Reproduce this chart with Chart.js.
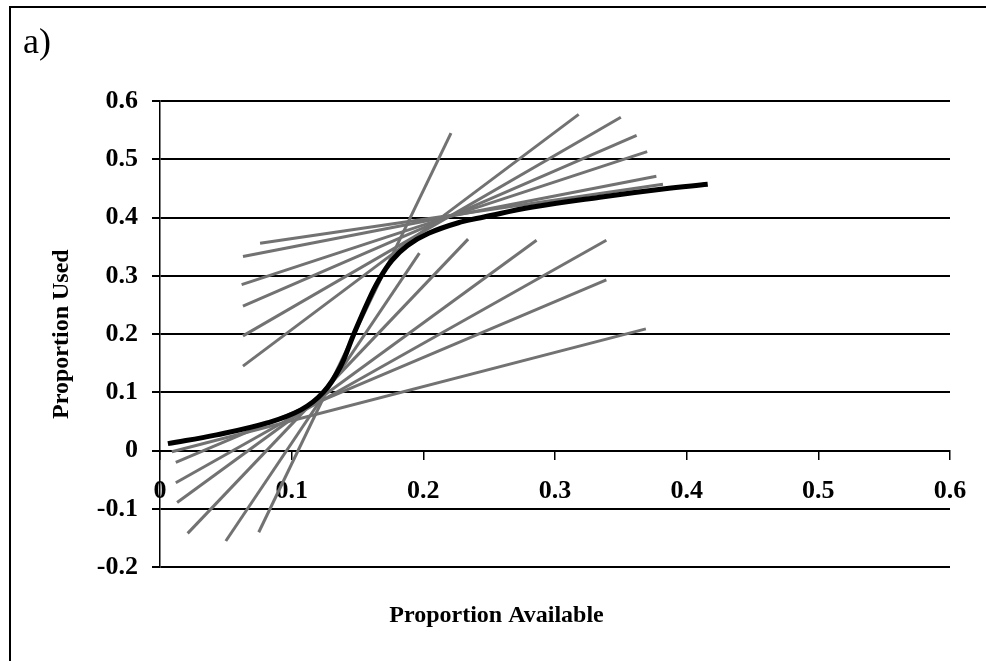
<!DOCTYPE html>
<html>
<head>
<meta charset="utf-8">
<title>a) Proportion Used vs Proportion Available</title>
<script src="https://cdn.jsdelivr.net/npm/chart.js@4.4.1/dist/chart.umd.min.js"></script>
<style>
  html, body { margin: 0; padding: 0; background: #fff; }
  #wrap { position: relative; width: 986px; height: 661px; }
</style>
</head>
<body>
<div id="wrap"><canvas id="propChart"></canvas></div>
<script>
/* ---- data ---- */
const PANEL_LABEL = 'a)';
const X_TITLE = 'Proportion Available';
const Y_TITLE = 'Proportion Used';

// fitted response curve (thick black)
const curveX = [0.006, 0.043, 0.082, 0.107, 0.124, 0.137, 0.147, 0.158, 0.166, 0.176, 0.188, 0.204, 0.228, 0.246, 0.283, 0.334, 0.382, 0.416];
const curveY = [0.012, 0.027, 0.048, 0.070, 0.100, 0.144, 0.199, 0.256, 0.292, 0.326, 0.352, 0.373, 0.392, 0.401, 0.418, 0.435, 0.449, 0.457];

// individual grey lines: start (x0,y0) -> end (x1,y1)
const segX0 = [0.076, 0.063, 0.062, 0.063, 0.063, 0.063, 0.075, 0.009, 0.012, 0.012, 0.013, 0.021, 0.050];
const segY0 = [0.356, 0.333, 0.285, 0.248, 0.197, 0.145, -0.140, -0.002, -0.020, -0.055, -0.089, -0.142, -0.155];
const segX1 = [0.382, 0.377, 0.370, 0.362, 0.350, 0.318, 0.221, 0.369, 0.339, 0.339, 0.286, 0.234, 0.197];
const segY1 = [0.457, 0.471, 0.513, 0.541, 0.572, 0.577, 0.545, 0.209, 0.293, 0.361, 0.361, 0.363, 0.339];

const xTicks = [0, 0.1, 0.2, 0.3, 0.4, 0.5, 0.6];
const yTicks = [-0.2, -0.1, 0, 0.1, 0.2, 0.3, 0.4, 0.5, 0.6];

const SERIF = "'Liberation Serif', 'Times New Roman', serif";

/* ---- frame + panel letter ---- */
const panelFrame = {
  id: 'panelFrame',
  afterDraw(chart) {
    const ctx = chart.ctx;
    ctx.save();
    ctx.strokeStyle = '#000';
    ctx.lineWidth = 2;
    ctx.beginPath();
    ctx.moveTo(10, chart.height);
    ctx.lineTo(10, 7);
    ctx.lineTo(chart.width, 7);
    ctx.stroke();
    ctx.fillStyle = '#000';
    ctx.font = '36px ' + SERIF;
    ctx.textBaseline = 'alphabetic';
    ctx.fillText(PANEL_LABEL, 23, 53);
    ctx.restore();
  }
};

function fmt(v) {
  const r = Math.round(v * 10) / 10;
  return r === 0 ? '0' : String(r);
}

const datasets = [{
  label: 'curve',
  data: curveX.map((x, i) => ({ x, y: curveY[i] })),
  borderColor: '#000',
  borderWidth: 5,
  pointRadius: 0,
  tension: 0.4,
  fill: false,
}];

segX0.forEach((x0, i) => {
  datasets.push({
    label: 'line ' + (i + 1),
    data: [{ x: x0, y: segY0[i] }, { x: segX1[i], y: segY1[i] }],
    borderColor: '#727272',
    borderWidth: 3,
    pointRadius: 0,
    fill: false,
  });
});

new Chart(document.getElementById('propChart'), {
  type: 'line',
  data: { datasets },
  plugins: [panelFrame],
  options: {
    responsive: true,
    maintainAspectRatio: false,
    animation: false,
    layout: { padding: { left: 43, right: 36, top: 101, bottom: 0 } },
    plugins: {
      legend: { display: false },
      tooltip: { enabled: false },
      subtitle: {
        display: true,
        position: 'bottom',
        text: X_TITLE,
        color: '#000',
        font: { family: SERIF, size: 24, weight: 'bold' },
        padding: { top: 34, bottom: 31 },
      },
    },
    scales: {
      x: {
        type: 'linear',
        position: { y: 0 },
        min: 0,
        max: 0.6,
        afterBuildTicks: s => { s.ticks = xTicks.map(v => ({ value: v })); },
        ticks: {
          color: '#000',
          padding: 17,
          maxRotation: 0,
          font: { family: SERIF, size: 26, weight: 'bold' },
          callback: v => fmt(v),
        },
        grid: { drawOnChartArea: false, drawTicks: true, tickLength: 8, color: '#000', lineWidth: 1.5 },
        border: { color: '#000', width: 2 },
      },
      y: {
        type: 'linear',
        min: -0.2,
        max: 0.6,
        afterBuildTicks: s => { s.ticks = yTicks.map(v => ({ value: v })); },
        afterFit: s => { s.width = 117; },
        ticks: {
          color: '#000',
          padding: 14,
          font: { family: SERIF, size: 26, weight: 'bold' },
          callback: v => fmt(v),
        },
        grid: { color: '#000', lineWidth: 2, tickLength: 8 },
        border: { color: '#000', width: 1.5 },
        title: {
          display: true,
          text: Y_TITLE,
          color: '#000',
          font: { family: SERIF, size: 24, weight: 'bold' },
          padding: { top: 4, bottom: 0 },
        },
      },
    },
  },
});
</script>
</body>
</html>
